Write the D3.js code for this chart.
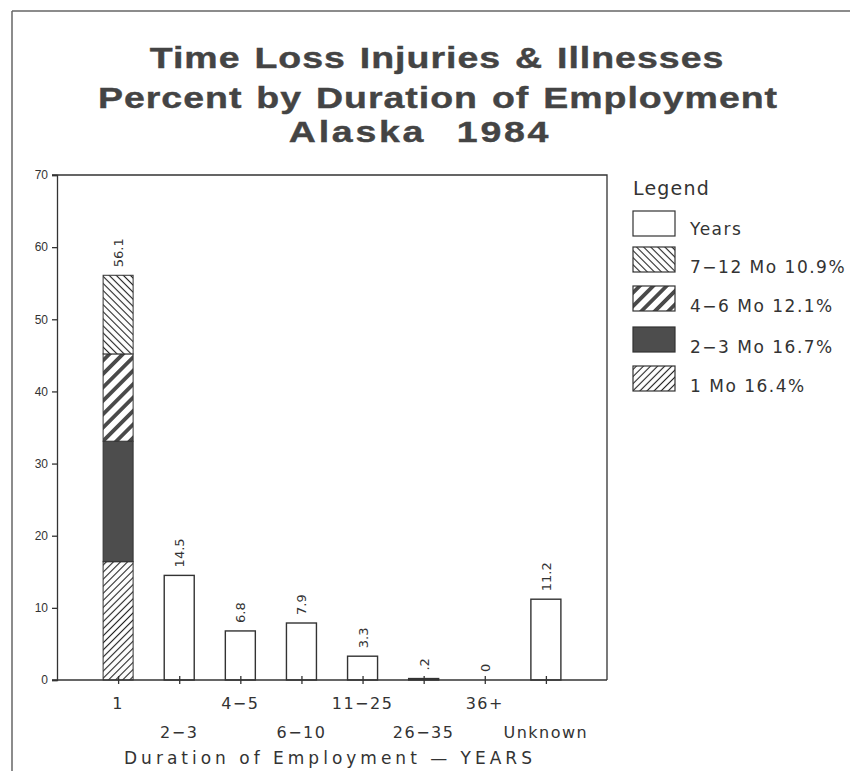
<!DOCTYPE html>
<html>
<head>
<meta charset="utf-8">
<script src="https://cdn.jsdelivr.net/npm/d3@7"></script>
<style>
  body { margin: 0; background: #fff; }
  text { fill: #333; }
</style>
</head>
<body>
<div id="chart"></div>
<script>
    // data
    const categories = ["1", "2-3", "4-5", "6-10", "11-25", "26-35", "36+", "Unknown"];
    const yearsPct = [0, 14.5, 6.8, 7.9, 3.3, 0.2, 0, 11.2];   // first category is stacked by months
    const monthKeys = ["1 Mo", "2-3 Mo", "4-6 Mo", "7-12 Mo"];
    const monthPct = [16.4, 16.7, 12.1, 10.9];
    const barLabels = ["56.1", "14.5", "6.8", "7.9", "3.3", ".2", "0", "11.2"];
    const yTicks = [0, 10, 20, 30, 40, 50, 60, 70];
    const titleLines = ["Time Loss Injuries & Illnesses", "Percent by Duration of Employment", "Alaska 1984"];
    const legendItems = ["Years", "7-12 Mo 10.9%", "4-6 Mo 12.1%", "2-3 Mo 16.7%", "1 Mo 16.4%"];
    const legendFills = ["years", "m7_12", "m4_6", "m2_3", "m1"];

    const W = 850, H = 771;
    const plot = { left: 57, right: 607, top: 175, bottom: 680 };
    const barW = 30;
    const ink = "#333";

    const svg = d3.select("#chart").append("svg")
        .attr("width", W)
        .attr("height", H)
        .style("font-family", "'DejaVu Sans', sans-serif");

    // fill patterns
    const defs = svg.append("defs");
    function stripes(id, size, angle, sw, color) {
        const p = defs.append("pattern")
            .attr("id", id)
            .attr("patternUnits", "userSpaceOnUse")
            .attr("width", size).attr("height", size)
            .attr("patternTransform", `rotate(${angle})`);
        p.append("rect").attr("width", size).attr("height", size).attr("fill", "#fff");
        p.append("line")
            .attr("x1", 0).attr("x2", size)
            .attr("y1", size / 2).attr("y2", size / 2)
            .attr("stroke", color).attr("stroke-width", sw);
    }
    stripes("m1", 5, -45, 1.1, "#222");
    stripes("m4_6", 9.5, -45, 3.8, "#4a4a4a");
    stripes("m7_12", 5, 45, 1.1, "#222");
    const fillOf = { years: "#fff", m1: "url(#m1)", m2_3: "#4d4d4d", m4_6: "url(#m4_6)", m7_12: "url(#m7_12)" };
    const monthFill = ["m1", "m2_3", "m4_6", "m7_12"];

    // frame of the page
    svg.append("line").attr("x1", 12).attr("x2", 12).attr("y1", 11).attr("y2", H)
        .attr("stroke", "#666").attr("stroke-width", 1.5);
    svg.append("line").attr("x1", 12).attr("x2", W).attr("y1", 11).attr("y2", 11)
        .attr("stroke", "#666").attr("stroke-width", 1.5);

    // title (wide bold face: stretch horizontally)
    const titleX = [437, 438, 420];
    const titleY = [68, 108, 142];
    svg.append("g").selectAll("text")
        .data(titleLines)
        .enter()
        .append("text")
            .attr("transform", (d, i) => `translate(${titleX[i]},${titleY[i]}) scale(1.25,1)`)
            .attr("text-anchor", "middle")
            .style("font-family", "'Liberation Sans', Arial, sans-serif")
            .style("font-weight", "bold")
            .style("font-size", "30px")
            .style("letter-spacing", (d, i) => i === 2 ? "2.2px" : "0.8px")
            .style("word-spacing", (d, i) => i === 2 ? "14px" : "2px")
            .style("fill", "#444")
            .style("stroke", "#444")
            .style("stroke-width", "0.4px")
            .text(d => d);

    // scales
    const x = d3.scalePoint()
        .domain(categories)
        .range([plot.left, plot.right])
        .padding(1);
    const y = d3.scaleLinear()
        .domain([0, 70])
        .range([plot.bottom, plot.top]);

    // plot border (top + right)
    svg.append("path")
        .attr("d", `M${plot.left - 5},${plot.top}H${plot.right}V${plot.bottom}`)
        .attr("fill", "none").attr("stroke", ink).attr("stroke-width", 1.3);

    // y axis
    svg.append("g")
        .attr("transform", `translate(${plot.left},0)`)
        .call(d3.axisLeft(y).tickValues(yTicks).tickSize(5).tickPadding(4))
        .call(g => g.selectAll("path, line").attr("stroke", ink).attr("stroke-width", 1.3))
        .call(g => g.selectAll("text").attr("font-size", 12).style("font-size", "12px").style("fill", ink));

    // bars: stacked month bar for "1"
    const stackRow = {};
    monthKeys.forEach((k, i) => stackRow[k] = monthPct[i]);
    const stacked = d3.stack().keys(monthKeys)([stackRow]);
    svg.append("g").selectAll("rect")
        .data(stacked)
        .enter()
        .append("rect")
            .attr("x", x(categories[0]) - barW / 2)
            .attr("width", barW)
            .attr("y", d => y(d[0][1]))
            .attr("height", d => y(d[0][0]) - y(d[0][1]))
            .attr("fill", (d, i) => fillOf[monthFill[i]])
            .attr("stroke", ink)
            .attr("stroke-width", 1);

    // bars: year categories
    svg.append("g").selectAll("rect")
        .data(categories.slice(1))
        .enter()
        .append("rect")
            .attr("x", d => x(d) - barW / 2)
            .attr("width", barW)
            .attr("y", (d, i) => y(yearsPct[i + 1]))
            .attr("height", (d, i) => y(0) - y(yearsPct[i + 1]))
            .attr("fill", "#fff")
            .attr("stroke", ink)
            .attr("stroke-width", 1.4);

    // value labels, rotated
    const totals = categories.map((c, i) => i === 0 ? d3.sum(monthPct) : yearsPct[i]);
    svg.append("g").selectAll("text")
        .data(categories)
        .enter()
        .append("text")
            .attr("transform", (d, i) => `translate(${x(d) + 5},${y(totals[i]) - 8}) rotate(-90)`)
            .attr("text-anchor", "start")
            .style("font-size", "13px")
            .text((d, i) => barLabels[i]);

    // x axis
    svg.append("g")
        .attr("transform", `translate(0,${plot.bottom})`)
        .call(d3.axisBottom(x).tickSize(4).tickFormat(""))
        .call(g => g.select(".domain").attr("d", `M${plot.left - 5},0H${plot.right}`))
        .call(g => g.selectAll("path, line").attr("stroke", ink).attr("stroke-width", 1.3))
        .call(g => g.selectAll(".tick line").attr("y1", -4));

    svg.append("g").selectAll("text")
        .data(categories)
        .enter()
        .append("text")
            .attr("x", d => x(d))
            .attr("y", (d, i) => i % 2 === 0 ? 709 : 738)
            .attr("text-anchor", "middle")
            .style("font-size", "16px")
            .style("letter-spacing", "1.5px")
            .text(d => d.replace("-", "\u2212"));

    svg.append("text")
        .attr("x", 330)
        .attr("y", 764)
        .attr("text-anchor", "middle")
        .style("font-size", "17px")
        .style("letter-spacing", "4px")
        .text("Duration of Employment \u2014 YEARS");

    // legend
    const legend = svg.append("g").attr("transform", "translate(633,0)");
    legend.append("text")
        .attr("x", 0).attr("y", 195)
        .style("font-size", "19px")
        .style("letter-spacing", "1.2px")
        .text("Legend");
    const rowTop = [211, 247, 286, 327, 366];
    const items = legend.selectAll("g.item")
        .data(legendItems)
        .enter()
        .append("g")
            .attr("class", "item")
            .attr("transform", (d, i) => `translate(0,${rowTop[i]})`);
    items.append("rect")
        .attr("width", 42).attr("height", 25)
        .attr("fill", (d, i) => fillOf[legendFills[i]])
        .attr("stroke", ink).attr("stroke-width", 1.2);
    items.append("text")
        .attr("x", 57)
        .attr("y", (d, i) => i === 0 ? 24 : 26)
        .style("font-size", "17px")
        .style("letter-spacing", "1.5px")
        .text(d => d.replace("-", "\u2212"));
</script>
</body>
</html>
